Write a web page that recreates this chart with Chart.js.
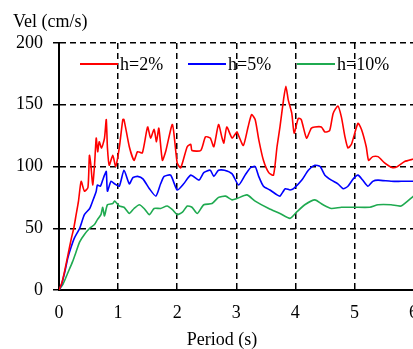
<!DOCTYPE html>
<html>
<head>
<meta charset="utf-8">
<script src="https://cdn.jsdelivr.net/npm/chart.js@4.4.1/dist/chart.umd.min.js"></script>
<style>
    html, body { margin: 0; padding: 0; background: #fff; overflow: hidden; }
    #wrap { width: 430px; height: 349px; }
</style>
</head>
<body>
<div id="wrap"><canvas id="chart" width="430" height="349"></canvas></div>
<script>
// ============================================
// Velocity response spectra (h = 2%, 5%, 10%)
// ============================================

const seriesLabels = ['h=2%', 'h=5%', 'h=10%'];
const seriesColors = ['#ff0000', '#0000ff', '#1faa50'];

// h=2%
const periodH2 = [0, 0.05, 0.094, 0.15, 0.21, 0.25, 0.29, 0.33, 0.375, 0.43, 0.49, 0.515, 0.54, 0.57, 0.6, 0.63, 0.655, 0.68, 0.72, 0.77,
    0.8, 0.82, 0.85, 0.91, 0.96, 1.02, 1.08, 1.1, 1.19, 1.27, 1.33, 1.41, 1.5, 1.55, 1.61, 1.65, 1.69, 1.75, 1.81, 1.92,
    2.0, 2.06, 2.17, 2.23, 2.25, 2.4, 2.48, 2.56, 2.62, 2.7, 2.76, 2.79, 2.84, 2.93, 3.01, 3.04, 3.12, 3.2, 3.26, 3.32,
    3.38, 3.46, 3.55, 3.63, 3.69, 3.74, 3.8, 3.84, 3.88, 3.94, 3.98, 4.05, 4.1, 4.19, 4.27, 4.33, 4.44, 4.5, 4.58, 4.64,
    4.72, 4.78, 4.84, 4.89, 4.95, 5.06, 5.12, 5.2, 5.24, 5.31, 5.4, 5.51, 5.65, 5.73, 5.85, 6.0];
const velH2 = [0, 6, 15, 28, 42, 50, 61, 72, 88, 80, 83, 109, 101, 85, 100, 123, 112, 120, 115, 123,
    138, 115, 101, 109, 100, 115, 138, 138, 116, 105, 112, 111, 132, 123, 130, 120, 131, 105, 113, 134,
    103, 99, 116, 118, 113, 113, 124, 123, 116, 134, 123, 119, 132, 123, 128, 125, 117, 132, 142, 138,
    122, 105, 95, 93, 116, 132, 154, 165, 154, 143, 127, 139, 138, 123, 131, 132, 132, 128, 129, 143,
    149, 140, 124, 115, 118, 135, 130, 116, 105, 108, 108, 103, 99, 100, 104, 106];

// h=5%
const periodH5 = [0, 0.04, 0.1, 0.15, 0.2, 0.26, 0.35, 0.43, 0.52, 0.57, 0.63, 0.65, 0.7, 0.74, 0.77, 0.8, 0.82, 0.88, 0.94, 1.02,
    1.1, 1.19, 1.25, 1.33, 1.42, 1.53, 1.64, 1.72, 1.78, 1.89, 2.0, 2.11, 2.23, 2.37, 2.45, 2.56, 2.62, 2.7, 2.8, 2.93,
    3.04, 3.15, 3.24, 3.32, 3.38, 3.46, 3.57, 3.69, 3.74, 3.83, 3.91, 3.97, 4.11, 4.22, 4.33, 4.42, 4.5, 4.61, 4.72, 4.81,
    4.89, 4.98, 5.06, 5.14, 5.23, 5.31, 5.4, 5.62, 5.79, 6.0];
const velH5 = [0, 4, 15, 26, 34, 42, 50, 61, 66, 72, 80, 85, 84, 89, 93, 96, 80, 88, 86, 84,
    97, 86, 91, 92, 90, 82, 76, 86, 92, 93, 81, 86, 93, 89, 95, 97, 92, 97, 97, 94,
    85, 93, 99, 100, 92, 84, 81, 77, 76, 82, 81, 82, 89, 97, 101, 100, 93, 89, 86, 82,
    84, 90, 93, 89, 84, 88, 89, 88, 88, 88];

// h=10%
const periodH10 = [0, 0.07, 0.15, 0.23, 0.29, 0.35, 0.43, 0.52, 0.6, 0.65, 0.71, 0.74, 0.77, 0.82, 0.91, 0.94, 1.02, 1.1, 1.19, 1.27,
    1.36, 1.44, 1.53, 1.61, 1.72, 1.83, 1.92, 2.0, 2.09, 2.17, 2.25, 2.34, 2.45, 2.59, 2.7, 2.82, 2.93, 3.01, 3.18, 3.32,
    3.55, 3.74, 3.91, 4.02, 4.16, 4.33, 4.47, 4.61, 4.78, 5.0, 5.26, 5.4, 5.62, 5.79, 6.0];
const velH10 = [0, 5, 14, 23, 31, 39, 45, 50, 53, 57, 61, 67, 60, 69, 70, 72, 68, 67, 62, 66,
    69, 66, 61, 66, 66, 68, 65, 61, 63, 68, 67, 62, 69, 70, 75, 76, 73, 74, 77, 72,
    66, 62, 58, 63, 69, 73, 69, 66, 67, 67, 67, 69, 69, 68, 76];

// axis ticks
const xTicks = [0, 1, 2, 3, 4, 5, 6];
const yTicks = [0, 50, 100, 150, 200];

const FONT = "'Liberation Serif', 'Times New Roman', serif";

function toPoints(xs, ys) {
    return xs.map((x, i) => ({ x: x, y: ys[i] }));
}

// legend drawn inside the plot area, transparent background
const insideLegend = {
    id: 'insideLegend',
    afterDatasetsDraw(chart) {
        const ctx = chart.ctx;
        const starts = [80, 188, 297];
        const y = 64;
        ctx.save();
        ctx.font = '18px ' + FONT;
        ctx.textBaseline = 'middle';
        ctx.textAlign = 'left';
        chart.data.datasets.forEach((ds, i) => {
            ctx.strokeStyle = ds.borderColor;
            ctx.lineWidth = 2;
            ctx.beginPath();
            ctx.moveTo(starts[i], y);
            ctx.lineTo(starts[i] + 38, y);
            ctx.stroke();
            ctx.fillStyle = '#000';
            ctx.fillText(ds.label, starts[i] + 40, y + 1);
        });
        ctx.restore();
    }
};

// axis titles placed like the source figure
const axisTitles = {
    id: 'axisTitles',
    afterDraw(chart) {
        const ctx = chart.ctx;
        ctx.save();
        ctx.font = '18px ' + FONT;
        ctx.fillStyle = '#000';
        ctx.textBaseline = 'middle';
        ctx.textAlign = 'left';
        ctx.fillText('Vel (cm/s)', 13, 22);
        ctx.textAlign = 'center';
        ctx.fillText('Period (s)', 222, 340);
        ctx.restore();
    }
};

const ctx = document.getElementById('chart').getContext('2d');

new Chart(ctx, {
    type: 'line',
    data: {
        datasets: [
            { label: seriesLabels[0], data: toPoints(periodH2, velH2), borderColor: seriesColors[0] },
            { label: seriesLabels[1], data: toPoints(periodH5, velH5), borderColor: seriesColors[1] },
            { label: seriesLabels[2], data: toPoints(periodH10, velH10), borderColor: seriesColors[2] }
        ]
    },
    options: {
        responsive: false,
        animation: false,
        events: [],
        layout: { padding: { top: 43, right: 15, left: 0, bottom: 0 } },
        elements: {
            line: { borderWidth: 1.6, tension: 0.2, fill: false },
            point: { radius: 0 }
        },
        plugins: {
            legend: { display: false },
            tooltip: { enabled: false }
        },
        scales: {
            x: {
                type: 'linear',
                min: 0,
                max: 6,
                afterBuildTicks: (scale) => { scale.ticks = xTicks.map(v => ({ value: v })); },
                afterFit: (scale) => { scale.height = 59; },
                ticks: {
                    color: '#000',
                    padding: 12,
                    maxRotation: 0,
                    font: { family: FONT, size: 18 }
                },
                grid: { color: '#000', lineWidth: 1.5, drawTicks: false },
                border: { display: true, color: '#000', width: 2, dash: [6, 4] }
            },
            y: {
                min: 0,
                max: 200,
                afterBuildTicks: (scale) => { scale.ticks = yTicks.map(v => ({ value: v })); },
                afterFit: (scale) => { scale.width = 59; },
                ticks: {
                    color: '#000',
                    padding: 10,
                    font: { family: FONT, size: 18 }
                },
                grid: { color: '#000', lineWidth: 1.5, tickLength: 6, tickColor: '#000', tickWidth: 1.5 },
                border: { display: true, color: '#000', width: 2, dash: [6, 4] }
            }
        }
    },
    plugins: [insideLegend, axisTitles]
});
</script>
</body>
</html>
